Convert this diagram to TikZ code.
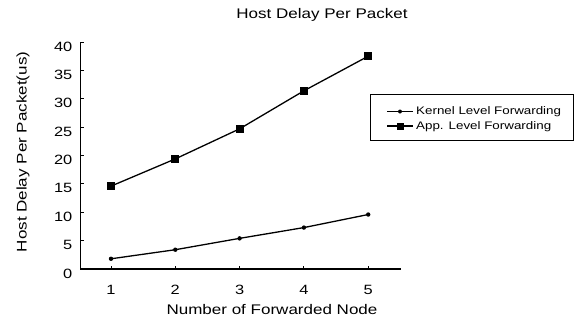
\documentclass[tikz,border=0pt]{standalone}
\usepackage{fontspec}
\setmainfont{Liberation Sans}[FakeStretch=1.22]
\begin{document}
\begin{tikzpicture}[x=1bp,y=-1bp,
  axisline/.style={line width=1.4bp,black},
  dataline/.style={line width=1.3bp,black},
  sqmark/.style={fill=black,minimum size=8bp,inner sep=0pt,draw=none,rectangle},
  ticklab/.style={font=\fontsize{13.5}{15}\selectfont,inner sep=0pt},
  axlab/.style={font=\fontsize{14}{16}\selectfont,inner sep=0pt},
  leglab/.style={font=\fontsize{11}{13}\selectfont,inner sep=0pt,anchor=west}]
\useasboundingbox (0,0) rectangle (576,325);
\fill[white] (0,0) rectangle (576,325);
% axes
\coordinate (o) at (80.5,269);
\coordinate (ytop) at (80.5,42);
\coordinate (xend) at (400.5,269);
\draw[axisline] (ytop) -- (o) -- (xend);
% y ticks and labels
\foreach \v in {0,5,...,40}{
  \draw[line width=0.9bp] (80.5,{269-\v*5.675}) -- ++(3,0);
  \node[ticklab,anchor=east] (yl\v) at (72.5,{269-\v*5.675+4.5}) {\v};
}
% x ticks and labels
\foreach \n in {1,...,5}{
  \draw[line width=0.9bp] ({111+(\n-1)*64.3},269) -- ++(0,-3);
  \node[ticklab] (xl\n) at ({111+(\n-1)*64.3},290) {\n};
}
% titles
\node[axlab,font=\fontsize{14}{16}\selectfont] (title) at (322,15) {Host Delay Per Packet};
\node[axlab] (xlabel) at (272,310) {Number of Forwarded Node};
\node[axlab,rotate=90] (ylabel) at (23,152) {Host Delay Per Packet(us)};
% data
\foreach \n/\v [count=\i] in {1/14.6,2/19.4,3/24.7,4/31.4,5/37.5}{
  \coordinate (a\i) at ({111+(\n-1)*64.3},{269-\v*5.675});
}
\foreach \n/\v [count=\i] in {1/1.8,2/3.4,3/5.4,4/7.3,5/9.6}{
  \coordinate (k\i) at ({111+(\n-1)*64.3},{269-\v*5.675});
}
\draw[dataline] (a1) -- (a2) -- (a3) -- (a4) -- (a5);
\draw[dataline] (k1) -- (k2) -- (k3) -- (k4) -- (k5);
\foreach \i in {1,...,5}{
  \node[sqmark] (am\i) at (a\i) {};
  \fill[black] (k\i) circle (2.2bp);
}
% legend
\node[draw=black,line width=1bp,minimum width=203bp,minimum height=46bp,inner sep=0pt] (legend) at (471.5,117) {};
\coordinate (l1a) at (387,111.5);
\coordinate (l1b) at (413,111.5);
\coordinate (l2a) at (387,126);
\coordinate (l2b) at (413,126);
\draw[dataline] (l1a) -- (l1b);
\fill[black] (400,111.5) circle (2bp);
\draw[dataline] (l2a) -- (l2b);
\node[sqmark,minimum size=7bp] (lm2) at (400,126) {};
\node[leglab] (lt1) at (416,111.5) {Kernel Level Forwarding};
\node[leglab] (lt2) at (416,126.5) {App. Level Forwarding};
\end{tikzpicture}
\end{document}
